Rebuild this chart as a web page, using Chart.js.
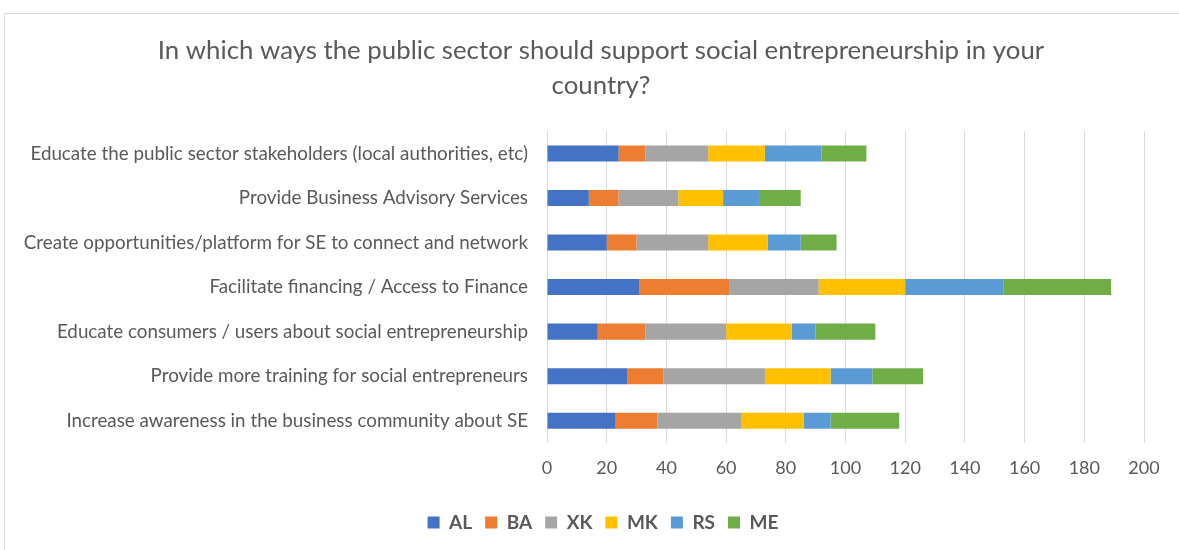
<!DOCTYPE html>
<html>
<head>
<meta charset="utf-8">
<script src="https://cdn.jsdelivr.net/npm/chart.js@4/dist/chart.umd.min.js"></script>
<style>
  html, body { margin: 0; padding: 0; background: #ffffff; }
  #frame { position: absolute; left: 4px; top: 13px; width: 1200px; height: 600px; border: 1px solid #d9d9d9; box-sizing: border-box; }
  #wrap { position: absolute; left: 0; top: 0; width: 1179px; height: 550px; }
</style>
</head>
<body>
<div id="frame"></div>
<div id="wrap"><canvas id="c" width="1179" height="550"></canvas></div>
<script>
// Survey question options (top to bottom)
const categories = [
  "Educate the public sector stakeholders (local authorities, etc)",
  "Provide Business Advisory Services",
  "Create opportunities/platform for SE to connect and network",
  "Facilitate financing / Access to Finance",
  "Educate consumers / users about social entrepreneurship",
  "Provide more training for social entrepreneurs",
  "Increase awareness in the business community about SE"
];

// Responses per country
const AL = [24, 14, 20, 31, 17, 27, 23];
const BA = [9, 10, 10, 30, 16, 12, 14];
const XK = [21, 20, 24, 30, 27, 34, 28];
const MK = [19, 15, 20, 29, 22, 22, 21];
const RS = [19, 12, 11, 33, 8, 14, 9];
const ME = [15, 14, 12, 36, 20, 17, 23];

const xTicks = [0, 20, 40, 60, 80, 100, 120, 140, 160, 180, 200];

const FONT = "Lato, 'Open Sans', sans-serif";
const TEXT = "#595959";

const series = [
  { label: "AL", data: AL, color: "#4472C4" },
  { label: "BA", data: BA, color: "#ED7D31" },
  { label: "XK", data: XK, color: "#A5A5A5" },
  { label: "MK", data: MK, color: "#FFC000" },
  { label: "RS", data: RS, color: "#5B9BD5" },
  { label: "ME", data: ME, color: "#70AD47" }
];

// The frame is wider than the visible area, so title and legend sit
// centred on the full frame rather than on the visible part.
const centreShift = {
  id: "centreShift",
  afterLayout(chart) {
    const shift = (box, dx) => { if (box) { box.left += dx; box.right += dx; } };
    shift(chart.titleBlock, 24);
    shift(chart.legend, 26);
  }
};

new Chart(document.getElementById("c"), {
  type: "bar",
  data: {
    labels: categories,
    datasets: series.map(s => ({
      label: s.label,
      data: s.data,
      backgroundColor: s.color,
      borderWidth: 0,
      categoryPercentage: 1,
      barPercentage: 0.36
    }))
  },
  plugins: [centreShift],
  options: {
    indexAxis: "y",
    responsive: false,
    animation: false,
    layout: { padding: { left: 10, right: 35, top: 18, bottom: 8 } },
    plugins: {
      title: {
        display: true,
        text: ["In which ways the public sector should support social entrepreneurship in your", "country?"],
        color: TEXT,
        font: { family: FONT, size: 25.8, weight: "normal", lineHeight: 1.36 },
        padding: { top: 15, bottom: 28 }
      },
      legend: {
        position: "bottom",
        labels: {
          color: TEXT,
          font: { family: FONT, size: 19, weight: "bold" },
          boxWidth: 12,
          boxHeight: 12,
          padding: 13
        }
      },
      tooltip: { enabled: false }
    },
    scales: {
      x: {
        stacked: true,
        min: 0,
        max: 200,
        afterBuildTicks: s => { s.ticks = xTicks.map(v => ({ value: v })); },
        afterFit: s => { s.height = 57; },
        grid: { color: "#d9d9d9", lineWidth: 1, drawTicks: false },
        border: { display: false },
        ticks: { color: TEXT, font: { family: FONT, size: 18 }, padding: 14 }
      },
      y: {
        stacked: true,
        afterFit: s => { s.width = 537; },
        grid: { display: false, drawTicks: false },
        border: { display: false },
        ticks: { color: TEXT, font: { family: FONT, size: 18.8 }, padding: 19, autoSkip: false }
      }
    }
  }
});
</script>
</body>
</html>
